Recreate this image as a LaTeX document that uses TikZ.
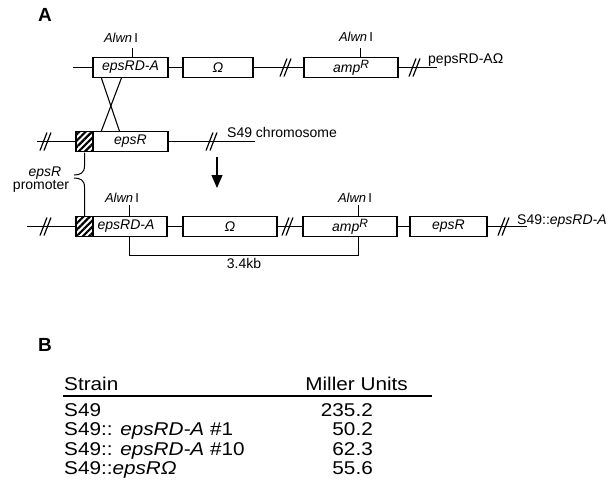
\documentclass[tikz,border=0pt]{standalone}
\usepackage{fontspec}
\setmainfont{Liberation Sans}
\usepackage{graphicx}
\usetikzlibrary{patterns.meta,calc,arrows.meta}
\newcommand{\tabf}[1]{\scalebox{1.12}[1]{\fontsize{18.5}{20}\selectfont #1}}
\newcommand{\ampR}{amp\raisebox{4pt}{\fontsize{12}{12}\selectfont R}}
\newcommand{\alwn}{\textit{Alwn}\,I}
\tikzset{
  gene/.style={draw, line width=1.2pt, minimum height=20pt, inner sep=0pt,
    font=\fontsize{14}{16}\selectfont\itshape},
  hatchbox/.style={draw, line width=1.2pt, minimum height=20pt, minimum width=17pt, inner sep=0pt,
    pattern={Lines[angle=45,distance=4.5pt,line width=2.2pt]}},
  dna/.style={line width=1.1pt},
  tickline/.style={line width=1pt},
  lbl/.style={font=\fontsize{14}{16}\selectfont, inner sep=0pt},
  alw/.style={font=\fontsize{13}{15}\selectfont, inner sep=0pt},
  panel/.style={font=\fontsize{19}{20}\selectfont\bfseries, inner sep=0pt},
  tab/.style={inner sep=0pt},
  brk/.pic={\draw[line width=1.2pt] (-5,9) -- (2,-9); \draw[line width=1.2pt] (-1,9) -- (6,-9);}
}
\begin{document}
\begin{tikzpicture}[x=1pt, y=-1pt]
\useasboundingbox (0,0) rectangle (613,491);

% panel labels
\node[panel] (pA) at (45,15) {A};
\node[panel] (pB) at (45,345) {B};

% ---------- top row: plasmid ----------
\coordinate (l1s) at (73,67.5);
\node[gene, minimum width=75pt] (t1) at (130.5,67.5) {epsRD-A};
\node[gene, minimum width=70pt] (t2) at (218,67.5) {Ω};
\node[gene, minimum width=94pt] (t3) at (351,67.5) {\ampR};
\coordinate (l1e) at (437,67.5);
\draw[dna] (l1s) -- (t1);
\draw[dna] (t1) -- (t2);
\draw[dna] (t2) -- (t3);
\draw[dna] (t3) -- (l1e);
\pic at (285,67.5) {brk};
\pic at (414,67.5) {brk};
\node[lbl, anchor=base west] (p1) at (428,63) {pepsRD-AΩ};

\coordinate (a1) at (132,48);
\node[alw] (al1) at (121,38) {\alwn};
\draw[tickline] (t1.north -| a1) -- (a1);
\coordinate (a2) at (360,48);
\node[alw] (al2) at (356,37) {\alwn};
\draw[tickline] (t3.north -| a2) -- (a2);

% ---------- second row: chromosome ----------
\coordinate (l2s) at (37,141.5);
\node[hatchbox] (h2) at (84.5,141.5) {};
\node[gene, minimum width=75pt] (b2) at (130.5,141.5) {epsR};
\coordinate (l2e) at (255,141.5);
\draw[dna] (l2s) -- (h2);
\draw[dna] (b2) -- (l2e);
\pic at (45,141.5) {brk};
\pic at (211,141.5) {brk};
\node[lbl, anchor=base west] (c1) at (227,137) {S49 chromosome};

% crossover
\draw[dna] ($(t1.south west)+(9,0)$) -- ($(b2.north west)+(27,0)$);
\draw[dna] ($(t1.south west)+(29,0)$) -- ($(b2.north west)+(9,0)$);

% arrow
\coordinate (ar1) at (217,157);
\coordinate (ar2) at (217,188);
\draw[dna, -{Triangle[length=13pt,width=11pt]}] (ar1) -- (ar2);

% ---------- third row: integrant ----------
\coordinate (l3s) at (27,226.5);
\node[hatchbox] (h3) at (84.5,226.5) {};
\node[gene, minimum width=74pt] (b3) at (130,226.5) {\hspace*{-8pt}epsRD-A};
\node[gene, minimum width=94pt] (b4) at (230,226.5) {Ω};
\node[gene, minimum width=94pt] (b5) at (350,226.5) {\ampR};
\node[gene, minimum width=77pt] (b6) at (448.5,226.5) {epsR};
\coordinate (l3e) at (527,226.5);
\draw[dna] (l3s) -- (h3);
\draw[dna] (b3) -- (b4);
\draw[dna] (b4) -- (b5);
\draw[dna] (b5) -- (b6);
\draw[dna] (b6) -- (l3e);
\pic at (45,226.5) {brk};
\pic at (287,226.5) {brk};
\pic at (503,226.5) {brk};
\node[lbl, anchor=base west] (c2) at (517,224) {S49::\textit{epsRD-A}};

\coordinate (a3) at (129,205);
\node[alw] (al3) at (122,198) {\alwn};
\draw[tickline] (b3.north -| a3) -- (a3);
\coordinate (a4) at (358,205);
\node[alw] (al4) at (355,198) {\alwn};
\draw[tickline] (b5.north -| a4) -- (a4);

% 3.4 kb bracket
\coordinate (m1) at (129,255.5);
\coordinate (m2) at (358,255.5);
\draw[tickline] (b3.south -| m1) -- (m1) -- (m2) -- (b5.south -| m2);
\node[lbl, anchor=north] (kb) at (244,258) {3.4kb};

% promoter brace
\coordinate (br1) at (74,175);
\coordinate (br2) at (74,178);
\draw[tickline] (h2.south) -- (84.5,166) .. controls (84.5,173) and (80,175) .. (br1);
\draw[tickline] (br2) .. controls (80,178) and (84.5,180) .. (84.5,187) -- (h3.north);
\node[lbl] (pr1) at (45,173) {\textit{epsR}};
\node[lbl] (pr2) at (41,186.5) {promoter};

% ---------- table ----------
\node[tab, anchor=base west] (hs) at (64,390) {\tabf{Strain}};
\node[tab, anchor=base east] (hm) at (408,390) {\tabf{Miller Units}};
\coordinate (r1) at (63,395.5);
\coordinate (r2) at (432,395.5);
\draw[line width=2pt] (r1) -- (r2);

\node[tab, anchor=base west] (s1) at (64,416) {\tabf{S49}};
\node[tab, anchor=base west] (s2) at (64,435.5) {\tabf{S49:: \textit{epsRD-A} \#1}};
\node[tab, anchor=base west] (s3) at (64,455) {\tabf{S49:: \textit{epsRD-A} \#10}};
\node[tab, anchor=base west] (s4) at (64,474.5) {\tabf{S49::\textit{epsRΩ}}};

\node[tab, anchor=base east] (v1) at (373,416) {\tabf{235.2}};
\node[tab, anchor=base east] (v2) at (373,435.5) {\tabf{50.2}};
\node[tab, anchor=base east] (v3) at (373,455) {\tabf{62.3}};
\node[tab, anchor=base east] (v4) at (373,474.5) {\tabf{55.6}};
\end{tikzpicture}
\end{document}
